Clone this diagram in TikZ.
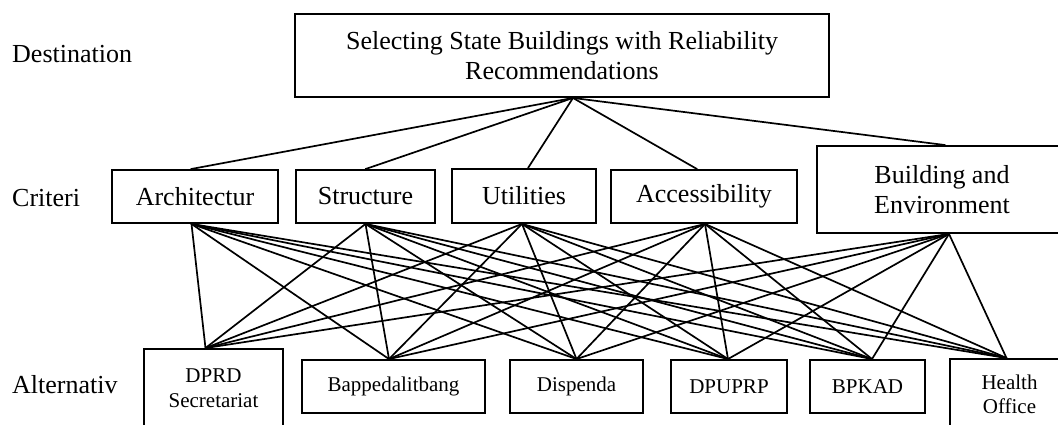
\documentclass[tikz,border=0pt]{standalone}
\usepackage{fontspec}
\setmainfont{Liberation Serif}
\begin{document}
\begin{tikzpicture}[x=1pt,y=-1pt,
  box/.style={draw, line width=1.9pt, inner sep=0pt, align=center, font=\fontsize{26}{29.5}\selectfont},
  altbox/.style={box, font=\fontsize{21}{24.5}\selectfont},
  lab/.style={anchor=base west, inner sep=0pt, font=\fontsize{26}{29}\selectfont},
  link/.style={line width=1.7pt, line cap=round}]
\useasboundingbox (0,0) rectangle (1058,425);
\clip (0,0) rectangle (1058,425);
% level labels
\node[lab] (ldest) at (12,63) {Destination};
\node[lab] (lcrit) at (12,207) {Criteri};
\node[lab] (lalt) at (12,393) {Alternativ};
% goal
\node[box, minimum width=534pt, minimum height=83pt] (goal) at (562,55.5)
  {Selecting State Buildings with Reliability\\Recommendations};
% criteria
\node[box, minimum width=166pt, minimum height=53pt] (arch) at (195,196.5) {Architectur};
\node[box, minimum width=139pt, minimum height=53pt] (struct) at (365.5,196.5) {Structure};
\node[box, minimum width=144pt, minimum height=54pt] (util) at (524,196) {Utilities};
\node[box, minimum width=186pt, minimum height=53pt] (access) at (704,196.5) {Accessibility};
\node[box, minimum width=250pt, minimum height=87pt] (be) at (942,189.5) {Building and\\Environment};
% alternatives
\node[altbox, minimum width=139pt, minimum height=78pt] (dprd) at (213.5,388) {DPRD\\Secretariat};
\node[altbox, minimum width=183pt, minimum height=53pt] (bapp) at (393.5,386.5) {Bappedalitbang};
\node[altbox, minimum width=133pt, minimum height=53pt] (disp) at (576.5,386.5) {Dispenda};
\node[altbox, minimum width=116pt, minimum height=53pt] (dpu) at (729,386.5) {DPUPRP};
\node[altbox, minimum width=115pt, minimum height=53pt] (bpk) at (867.5,386.5) {BPKAD};
\node[altbox, minimum width=119pt, minimum height=71pt] (health) at (1009.5,394.5) {Health\\Office};
% attach points
\coordinate (goalB) at ([xshift=11pt]goal.south);
\coordinate (archT) at ([xshift=-4pt]arch.north);
\coordinate (archB) at ([xshift=-3.5pt]arch.south);
\coordinate (structT) at (struct.north);
\coordinate (structB) at (struct.south);
\coordinate (utilT) at ([xshift=4pt]util.north);
\coordinate (utilB) at ([xshift=-2pt]util.south);
\coordinate (accessT) at ([xshift=-7pt]access.north);
\coordinate (accessB) at ([xshift=1pt]access.south);
\coordinate (beT) at ([xshift=3pt]be.north);
\coordinate (beB) at ([xshift=7pt]be.south);
\coordinate (dprdT) at ([xshift=-8pt]dprd.north);
\coordinate (bappT) at ([xshift=-4.5pt]bapp.north);
\coordinate (dispT) at (disp.north);
\coordinate (dpuT) at ([xshift=-1pt]dpu.north);
\coordinate (bpkT) at ([xshift=4.5pt]bpk.north);
\coordinate (healthT) at ([xshift=-3pt]health.north);
% connectors
\foreach \c in {arch,struct,util,access,be}
  \draw[link] (goalB) -- (\c T);
\foreach \c in {arch,struct,util,access,be}
  \foreach \a in {dprd,bapp,disp,dpu,bpk,health}
    \draw[link] (\c B) -- (\a T);
\end{tikzpicture}
\end{document}
